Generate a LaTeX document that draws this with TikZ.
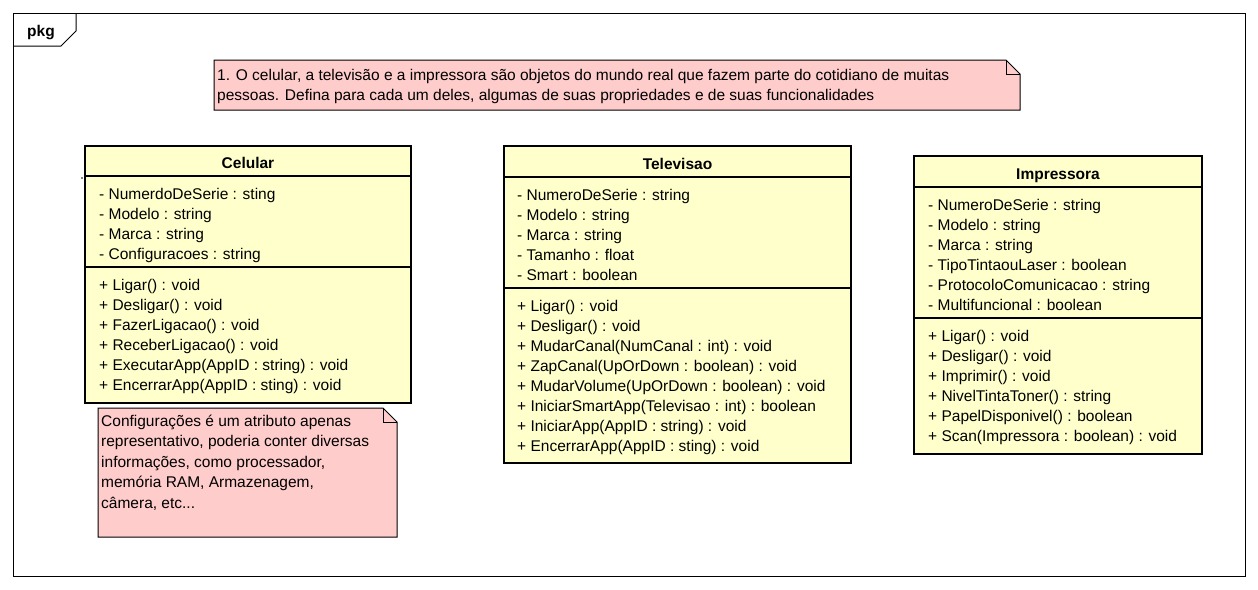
\documentclass[tikz,border=0pt]{standalone}
\usepackage{fontspec}
\setmainfont{Liberation Sans}
\definecolor{classfill}{RGB}{255,255,204}
\definecolor{notefill}{RGB}{255,204,204}
\newcommand{\umlsize}{\fontsize{15.5}{20}\selectfont}
\tikzset{
  pkgframe/.style={draw, line width=1pt, inner sep=0, outer sep=0},
  classbox/.style={draw, line width=2.6pt, fill=classfill, inner sep=0, outer sep=0, anchor=north west},
  divider/.style={line width=1.2pt},
  notebox/.style={draw, line width=1pt, fill=notefill},
  member/.style={anchor=base west, inner sep=0, font=\umlsize},
  classname/.style={anchor=base, inner sep=0, font=\umlsize\bfseries},
  notetext/.style={anchor=base west, inner sep=0, font=\umlsize},
}
\begin{document}
\begin{tikzpicture}[x=1pt,y=-1pt]
\useasboundingbox (0,0) rectangle (1258,589);
\fill[white] (0,0) rectangle (1258,589);

% package frame with its tab
\node[pkgframe, minimum width=1232, minimum height=563, anchor=north west] (pkg) at (13,13) {};
\draw[line width=1pt] (pkg.west |- 0,46) -- (61,46) -- (76,31) -- (76,13);
\node[anchor=base west, inner sep=0, font=\umlsize\bfseries] (pkglabel) at (27,36) {pkg};

% note at the top
\draw[notebox] (214,60) -- (1006,60) -- (1020,74) -- (1020,110) -- (214,110) -- cycle;
\draw[line width=1pt] (1006,60) -- (1006,74) -- (1020,74);
\node[notetext] (n1a) at (217,80) {1. O celular, a televisão e a impressora são objetos do mundo real que fazem parte do cotidiano de muitas};
\node[notetext] (n1b) at (217,100) {pessoas. Defina para cada um deles, algumas de suas propriedades e de suas funcionalidades};

% class Celular
\node[classbox, minimum width=326, minimum height=257] (cel) at (85,146) {};
\draw[divider] (cel.west |- 0,176) -- (cel.east |- 0,176);
\draw[divider] (cel.west |- 0,267) -- (cel.east |- 0,267);
\node[classname] (cel-name) at (248,168) {Celular};
\foreach \t [count=\i] in {- NumerdoDeSerie : sting, - Modelo : string, - Marca : string, - Configuracoes : string}
  \node[member] (cel-a\i) at (99,179+20*\i) {\t};
\foreach \t [count=\i] in {+ Ligar() : void, + Desligar() : void, + FazerLigacao() : void, + ReceberLigacao() : void, + ExecutarApp(AppID : string) : void, + EncerrarApp(AppID : sting) : void}
  \node[member] (cel-m\i) at (99,270+20*\i) {\t};
\fill (82,178) circle (0.8);

% class Televisao
\node[classbox, minimum width=347, minimum height=317] (tv) at (504,146) {};
\draw[divider] (tv.west |- 0,177) -- (tv.east |- 0,177);
\draw[divider] (tv.west |- 0,288) -- (tv.east |- 0,288);
\node[classname] (tv-name) at (677.5,169) {Televisao};
\foreach \t [count=\i] in {- NumeroDeSerie : string, - Modelo : string, - Marca : string, - Tamanho : float, - Smart : boolean}
  \node[member] (tv-a\i) at (517,180+20*\i) {\t};
\foreach \t [count=\i] in {+ Ligar() : void, + Desligar() : void, + MudarCanal(NumCanal : int) : void, + ZapCanal(UpOrDown : boolean) : void, + MudarVolume(UpOrDown : boolean) : void, + IniciarSmartApp(Televisao : int) : boolean, + IniciarApp(AppID : string) : void, + EncerrarApp(AppID : sting) : void}
  \node[member] (tv-m\i) at (517,291+20*\i) {\t};

% class Impressora
\node[classbox, minimum width=288, minimum height=298] (imp) at (914,156) {};
\draw[divider] (imp.west |- 0,187) -- (imp.east |- 0,187);
\draw[divider] (imp.west |- 0,318) -- (imp.east |- 0,318);
\node[classname] (imp-name) at (1058,179) {Impressora};
\foreach \t [count=\i] in {- NumeroDeSerie : string, - Modelo : string, - Marca : string, - TipoTintaouLaser : boolean, - ProtocoloComunicacao : string, - Multifuncional : boolean}
  \node[member] (imp-a\i) at (928,190+20*\i) {\t};
\foreach \t [count=\i] in {+ Ligar() : void, + Desligar() : void, + Imprimir() : void, + NivelTintaToner() : string, + PapelDisponivel() : boolean, + Scan(Impressora : boolean) : void}
  \node[member] (imp-m\i) at (928,321+20*\i) {\t};

% note below Celular
\draw[notebox] (98,408) -- (383,408) -- (397,422) -- (397,537) -- (98,537) -- cycle;
\draw[line width=1pt] (383,408) -- (383,422) -- (397,422);
\node[notetext] (n2a) at (101,426) {Configurações é um atributo apenas};
\node[notetext] (n2b) at (101,446.5) {representativo, poderia conter diversas};
\node[notetext] (n2c) at (101,467) {informações, como processador,};
\node[notetext] (n2d) at (101,487.5) {memória RAM, Armazenagem,};
\node[notetext] (n2e) at (101,508) {câmera, etc...};
\end{tikzpicture}
\end{document}
